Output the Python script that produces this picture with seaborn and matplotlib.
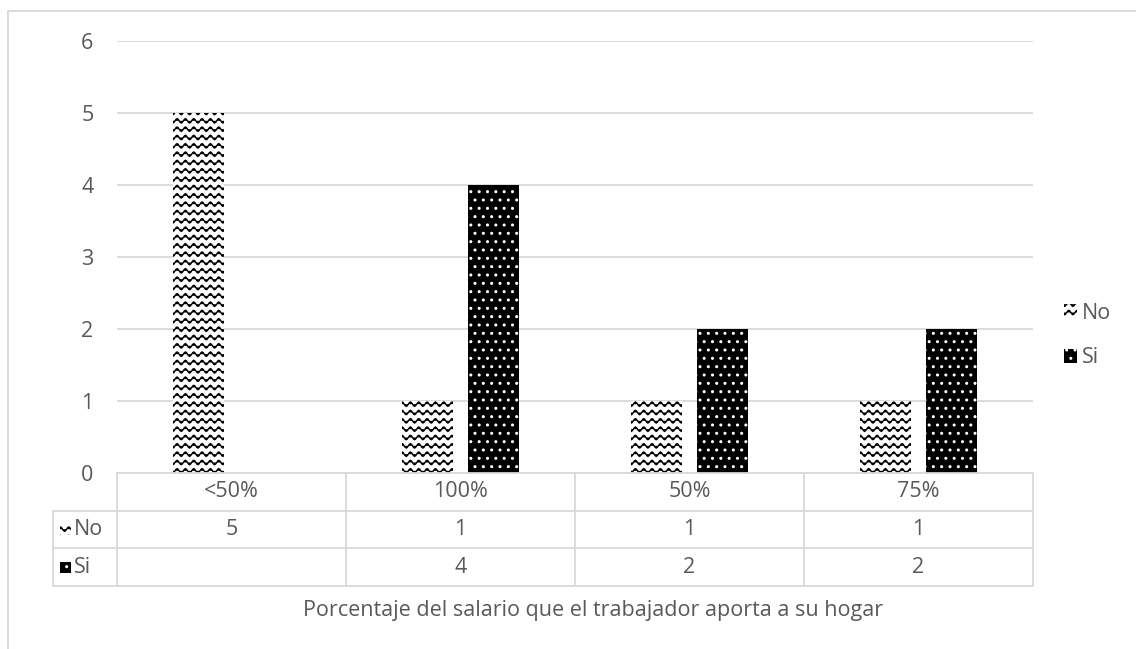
import numpy as np
import pandas as pd
import matplotlib
matplotlib.use("Agg")
import matplotlib.pyplot as plt
import seaborn as sns
from matplotlib import hatch as mhatch
from matplotlib.path import Path
from matplotlib.patches import Patch, Rectangle

# ---------------- data ----------------
categories = ["<50%", "100%", "50%", "75%"]
series_names = ["No", "Si"]
values_no = [5, 1, 1, 1]
values_si = [np.nan, 4, 2, 2]
y_ticks = [0, 1, 2, 3, 4, 5, 6]
x_title = "Porcentaje del salario que el trabajador aporta a su hogar"


# ---------------- custom wave hatch ----------------
class WaveHatch(mhatch.HatchPatternBase):
    def __init__(self, hatch, density):
        self.num_lines = int(hatch.count("~") * density)
        self.periods = self.num_lines
        self.pts = 8 * self.periods + 1
        self.num_vertices = self.num_lines * self.pts if self.num_lines else 0

    def set_vertices_and_codes(self, vertices, codes):
        amp = 0.022
        xs = np.linspace(0, 1, self.pts)
        for i in range(self.num_lines):
            y0 = (i + 0.5) / self.num_lines
            ys = y0 + amp * np.sin(2 * np.pi * self.periods * xs)
            sl = slice(i * self.pts, (i + 1) * self.pts)
            vertices[sl, 0] = xs
            vertices[sl, 1] = ys
            codes[sl] = Path.LINETO
            codes[i * self.pts] = Path.MOVETO


mhatch._hatch_types.append(WaveHatch)
mhatch._validate_hatch_pattern = lambda hatch: None

HATCH_NO = "~~"
HATCH_SI = ".."

# ---------------- style ----------------
sns.set_style("white")
plt.rcParams["font.family"] = ["Open Sans", "DejaVu Sans"]
plt.rcParams["hatch.linewidth"] = 1.0
TXT = "#595959"
GRID = "#d9d9d9"
FS = 15.5

W, H = 1136, 649
fig = plt.figure(figsize=(W / 100, H / 100), dpi=100)
ax_l, ax_r, ax_t, ax_b = 117, 1033, 41, 473
ax = fig.add_axes([ax_l / W, 1 - ax_b / H, (ax_r - ax_l) / W, (ax_b - ax_t) / H])

df = pd.DataFrame({
    "cat": categories * 2,
    "serie": [series_names[0]] * len(categories) + [series_names[1]] * len(categories),
    "val": values_no + values_si,
})

sns.barplot(data=df, x="cat", y="val", hue="serie", order=categories,
            hue_order=series_names, palette=["white", "black"],
            width=0.58, gap=0.23, legend=False, ax=ax, errorbar=None)

styles = {
    "No": dict(face="white", hatchc="black", hatch=HATCH_NO),
    "Si": dict(face="black", hatchc="white", hatch=HATCH_SI),
}
for cont, name in zip(ax.containers, series_names):
    st = styles[name]
    for p in cont:
        p.set_facecolor(st["face"])
        p.set_edgecolor(st["hatchc"])
        p.set_hatch(st["hatch"])
        p.set_linewidth(0)

ax.set_xlim(-0.5, len(categories) - 0.5)
ax.set_ylim(0, 6)
ax.set_yticks(y_ticks)
ax.set_yticklabels([str(t) for t in y_ticks], color=TXT, fontsize=FS)
ax.tick_params(axis="y", length=0, pad=17)
ax.set_xticks([])
ax.set_xlabel("")
ax.set_ylabel("")
for s in ax.spines.values():
    s.set_visible(False)
ax.yaxis.grid(True, color=GRID, linewidth=1.3)
ax.set_axisbelow(True)

# ---------------- legend ----------------
handles = [Patch(facecolor=styles[n]["face"], edgecolor=styles[n]["hatchc"],
                 hatch=styles[n]["hatch"], linewidth=0, label=n) for n in series_names]
leg = ax.legend(handles=handles, loc="center left", bbox_to_anchor=(1.013, 0.318),
                frameon=False, fontsize=FS, labelcolor=TXT, handlelength=0.6,
                handleheight=0.6, handletextpad=0.2, labelspacing=1.1)

# ---------------- data table ----------------
axw, axh = ax_r - ax_l, ax_b - ax_t
px_x = len(categories) / axw          # data units per pixel (x)
px_y = 1.0 / axh                      # axes units per pixel (y)
tr = ax.get_xaxis_transform()
x_left = -0.5 - (ax_l - 53) * px_x
row_h = 37.7 * px_y
y_rows = [0, -row_h, -2 * row_h, -3 * row_h]
line_kw = dict(color=GRID, linewidth=1.3, transform=tr, clip_on=False)

ax.plot([-0.5, len(categories) - 0.5], [0, 0], **line_kw)
for yy in y_rows[1:]:
    ax.plot([x_left, len(categories) - 0.5], [yy, yy], **line_kw)
ax.plot([x_left, x_left], [y_rows[1], y_rows[3]], **line_kw)
for i in range(len(categories) + 1):
    xx = i - 0.5
    ax.plot([xx, xx], [0, y_rows[3]], **line_kw)

for i, c in enumerate(categories):
    ax.text(i, (y_rows[0] + y_rows[1]) / 2, c, transform=tr, ha="center",
            va="center", color=TXT, fontsize=FS)
for r, vals in enumerate([values_no, values_si]):
    ymid = (y_rows[r + 1] + y_rows[r + 2]) / 2
    for i, v in enumerate(vals):
        if v is not None and not (isinstance(v, float) and np.isnan(v)):
            ax.text(i, ymid, f"{v:g}", transform=tr, ha="center", va="center",
                    color=TXT, fontsize=FS)
    name = series_names[r]
    st = styles[name]
    icon = 11
    ax.add_patch(Rectangle((x_left + 7 * px_x, ymid - icon / 2 * px_y),
                           icon * px_x, icon * px_y, transform=tr, clip_on=False,
                           facecolor=st["face"], edgecolor=st["hatchc"],
                           hatch=st["hatch"], linewidth=0))
    ax.text(x_left + 21 * px_x, ymid, name, transform=tr, ha="left",
            va="center", color=TXT, fontsize=FS)

ax.text(-0.5 + (593 - ax_l) * px_x, y_rows[3] - 24 * px_y, x_title, transform=tr,
        ha="center", va="center", color=TXT, fontsize=FS)

# ---------------- chart border ----------------
fig.patches.append(Rectangle((8 / W, -0.1), 1.2, 1.1 - 11 / H,
                             transform=fig.transFigure, facecolor="none",
                             edgecolor=GRID, linewidth=1.3))

fig.savefig("out.png", dpi=100)
